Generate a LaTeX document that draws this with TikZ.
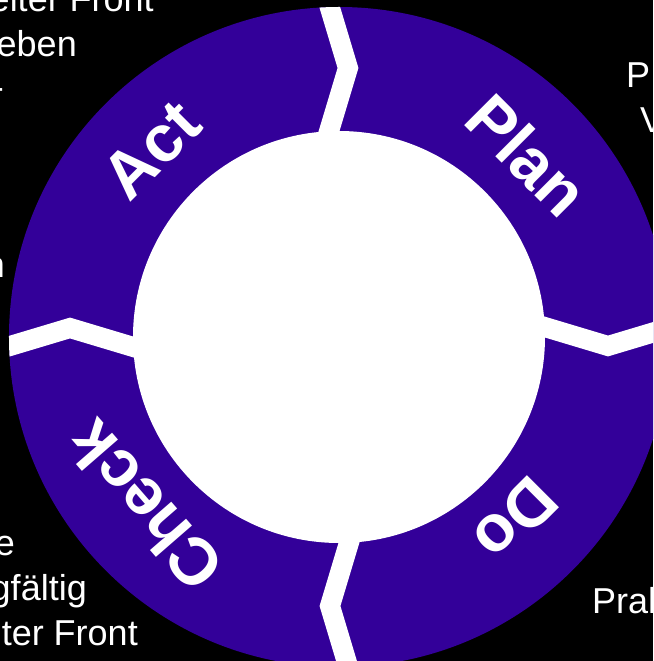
\documentclass[tikz,border=0pt]{standalone}
\usepackage{fontspec}
\setmainfont{Liberation Sans}
\usepackage{xcolor}
\definecolor{pdcapurple}{RGB}{51,0,153}

\begin{document}
\begin{tikzpicture}[
    x=1pt, y=1pt,
    stage/.style={text=white, font=\fontsize{66}{66}\selectfont\bfseries, inner sep=0pt},
    sidetext/.style={text=white, font=\fontsize{36}{36}\selectfont, inner sep=0pt},
    divider/.style={white, line width=20pt, line join=miter, miter limit=10}
]

\clip (-339,-324) rectangle (314,337);
\fill[black] (-339,-324) rectangle (314,337);

% ring with the four dividers
\fill[pdcapurple] (0,0) circle (330);
\begin{scope}
  \clip (0,0) circle (330);
  \foreach \a in {0,-90,-180,-270}
    \draw[divider, rotate=\a] (-15,349) -- (9,269) -- (-15,189);
\end{scope}
\fill[white] (0,0) circle (206);

\node[stage, rotate=45] (act) at (135:265) {Act};
\node[stage, rotate=-45] (plan) at (44:262) {Plan};
\node[stage, rotate=-135] (do) at (-46:254) {Do};
\node[stage, rotate=131] (check) at (221:258) {Check};

% cut-off text around the wheel
\node[sidetext, anchor=base east] (topa) at (-185,325) {eiter Front};
\node[sidetext, anchor=base east] (topb) at (-262,280) {eben};
\node[sidetext, anchor=base east] (topc) at (-335,237) {-};
\node[sidetext, anchor=base east] (midl) at (-334,59) {n};
\node[sidetext, anchor=base west] (rgta) at (287,249) {P};
\node[sidetext, anchor=base west] (rgtb) at (301,204) {V};
\node[sidetext, anchor=base west] (botr) at (253,-276) {Prak};
\node[sidetext, anchor=base east] (bota) at (-324,-218) {e};
\node[sidetext, anchor=base east] (botb) at (-252,-263) {gfältig};
\node[sidetext, anchor=base east] (botc) at (-201,-308) {ter Front};

\end{tikzpicture}
\end{document}
